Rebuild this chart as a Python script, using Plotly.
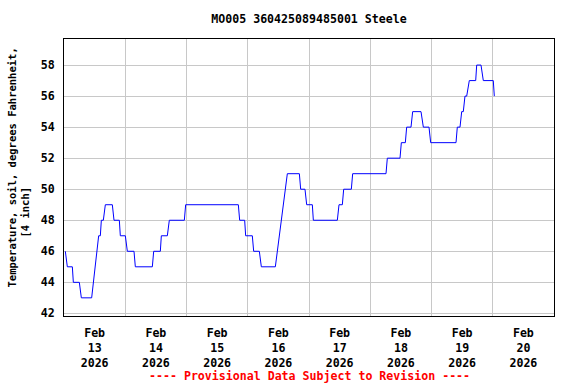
import pandas as pd
import plotly.graph_objects as go

# Hours after 2026-02-13 00:00 and soil temperature (deg F)
hours = [0.52, 1.31, 3.27, 3.66, 6.01, 6.79, 10.84, 11.49, 12.28, 13.06, 13.58, 14.24,
         14.63, 15.41, 16.20, 18.94, 19.59, 21.68, 22.07, 24.03, 24.82, 27.43, 27.95,
         34.61, 35.14, 37.75, 38.14, 40.49, 41.27, 47.15, 47.67, 68.31, 68.83, 70.79,
         71.18, 73.79, 74.32, 76.54, 77.32, 82.81, 83.59, 84.25, 85.03, 85.68, 86.73,
         87.51, 92.22, 92.74, 94.43, 95.09, 97.31, 97.70, 107.10, 107.76, 109.06, 109.59,
         112.59, 113.11, 126.17, 126.69, 131.66, 132.18, 133.75, 134.27, 135.97, 136.62,
         139.89, 140.80, 143.02, 143.68, 153.60, 154.11, 155.17, 155.83, 156.46, 157.12,
         157.79, 158.81, 161.32, 161.71, 163.40, 164.30, 168.21, 168.61]
temps = [46, 45, 45, 44, 44, 43, 43, 44, 45, 46, 47, 47,
         48, 48, 49, 49, 48, 48, 47, 47, 46, 46, 45,
         45, 46, 46, 47, 47, 48, 48, 49, 49, 48, 48,
         47, 47, 46, 46, 45, 45, 46, 47, 48, 49, 50,
         51, 51, 50, 50, 49, 49, 48, 48, 49, 49, 50,
         50, 51, 51, 52, 52, 53, 53, 54, 54, 55,
         55, 54, 54, 53, 53, 54, 54, 55, 55, 56,
         56, 57, 57, 58, 58, 57, 57, 56]

day_labels = ["Feb<br>13<br>2026", "Feb<br>14<br>2026", "Feb<br>15<br>2026", "Feb<br>16<br>2026",
              "Feb<br>17<br>2026", "Feb<br>18<br>2026", "Feb<br>19<br>2026", "Feb<br>20<br>2026"]
day_noons = ["2026-02-13 12:00", "2026-02-14 12:00", "2026-02-15 12:00", "2026-02-16 12:00",
             "2026-02-17 12:00", "2026-02-18 12:00", "2026-02-19 12:00", "2026-02-20 12:00"]
y_ticks = [42, 44, 46, 48, 50, 52, 54, 56, 58]
y_title_lines = ["Temperature, soil, degrees Fahrenheit,", "[4 inch]"]

base = pd.Timestamp("2026-02-13")
times = base + pd.to_timedelta(hours, unit="h")

FONT = "DejaVu Sans Mono"
GRID = "#c8c8c8"

fig = go.Figure(go.Scatter(x=times, y=temps, mode="lines",
                           line=dict(color="#0000ff", width=1), hoverinfo="skip"))

ytitle_font = dict(family=FONT, size=10.5, color="black", weight="bold")

fig.update_layout(
    width=576, height=384,
    margin=dict(l=64, r=22, t=39, b=68, autoexpand=False),
    paper_bgcolor="white", plot_bgcolor="white",
    showlegend=False,
    font=dict(family=FONT, size=11.6, color="black", weight="bold"),
    title=dict(text="MO005 360425089485001 Steele", x=(64 + 554) / 2 / 576, xanchor="center",
               y=1 - 19 / 384, yanchor="middle", automargin=False,
               font=dict(family=FONT, size=11.6, color="black", weight="bold")),
    annotations=[
        dict(text="---- Provisional Data Subject to Revision ----",
             xref="paper", yref="paper", x=0.5, y=-(376 - 316) / 277,
             xanchor="center", yanchor="middle", showarrow=False,
             font=dict(family=FONT, size=11.6, color="red", weight="bold")),
        dict(text=y_title_lines[0], textangle=-90,
             xref="paper", yref="paper", x=(11 - 64) / 490, y=(316 - 167.5) / 277,
             xanchor="center", yanchor="middle", showarrow=False, font=ytitle_font),
        dict(text=y_title_lines[1], textangle=-90,
             xref="paper", yref="paper", x=(24.5 - 64) / 490, y=(316 - 212) / 277,
             xanchor="center", yanchor="middle", showarrow=False, font=ytitle_font),
    ],
)

fig.update_xaxes(
    type="date", range=["2026-02-13", "2026-02-21"], automargin=False,
    tickmode="array", tickvals=day_noons, ticktext=day_labels,
    showgrid=False, ticks="", ticklabelstandoff=6,
    minor=dict(dtick=86400000, tick0="2026-02-13", showgrid=True,
               gridcolor=GRID, gridwidth=1, ticks=""),
    showline=True, linecolor="black", linewidth=1, mirror=True, zeroline=False,
    tickfont=dict(family=FONT, size=11.6, color="black", weight="bold"),
)
fig.update_yaxes(
    range=[41.83, 59.68], tickmode="array", tickvals=y_ticks, automargin=False,
    showgrid=True, gridcolor=GRID, gridwidth=1, ticks="", ticklabelstandoff=6,
    showline=True, linecolor="black", linewidth=1, mirror=True, zeroline=False,
    tickfont=dict(family=FONT, size=11.6, color="black", weight="bold"),
)

fig.write_html("out.html", config={"displayModeBar": False},
               post_script="document.body.style.margin='0';document.body.style.overflow='hidden';")
